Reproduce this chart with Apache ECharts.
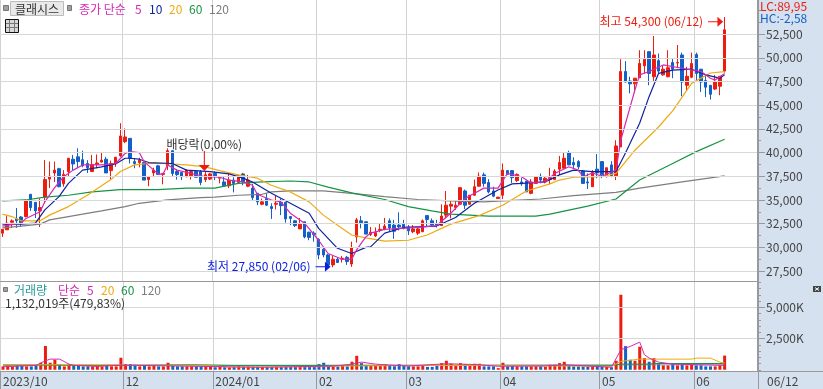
<!DOCTYPE html>
<html>
<head>
<meta charset="utf-8">
<style>
html, body { margin: 0; padding: 0; background: #d6e1ef; }
#main { width: 823px; height: 389px; }
</style>
<script src="https://cdn.jsdelivr.net/npm/echarts@6/dist/echarts.min.js"></script>
</head>
<body>
<div id="main"></div>
<script>
// open, close, low, high
const ohlc = [
  [31500,31900,31100,31900],[31850,32550,31850,33300],[32650,32800,32050,32950],[33000,32800,32050,34150],[33200,32600,32150,33300],
  [33250,34900,33150,35050],[35600,34200,33850,35600],[34750,33850,33100,34750],[33850,34200,32150,35150],[35300,37150,34650,39200],
  [37200,37500,36250,39050],[37850,38150,36900,39050],[38300,36400,36350,38400],[36700,37700,36400,38150],[38000,39400,37500,39400],
  [39300,38800,38150,39750],[39550,39050,38350,40450],[39250,38600,38450,40200],[38850,38400,37850,39200],[38000,38750,37950,39750],
  [38750,38900,38350,39800],[39000,39200,38950,40000],[39300,37850,37850,39550],[38100,38850,37200,39150],[38850,39500,38500,39550],
  [39650,41750,39550,43100],[41150,41650,41000,42550],[41500,39400,38850,41500],[39050,38850,38350,39400],[38950,39200,38450,39450],
  [38950,37100,37100,38950],[37150,37450,36450,37500],[37850,38150,37400,38400],[38600,37700,37650,38700],[37700,37800,36650,37850],
  [38600,40200,38150,40450],[40200,37800,37450,40200],[38000,37700,37150,38250],[37900,37450,37100,37900],[37450,38150,37400,38250],
  [37550,38000,37150,38000],[38000,37400,37400,38150],[38000,36850,36550,38150],[37150,37650,36900,38000],[37200,37750,37100,37850],
  [37800,37550,37100,38000],[37300,37400,36750,37400],[36900,36500,36400,37450],[36500,37100,36250,37800],[37100,36750,35800,37400],
  [36850,37550,36750,37650],[37750,36900,36550,37850],[36450,37100,36350,37650],[36250,35250,35000,36700],[35700,34800,34450,35700],
  [34550,34800,34450,35150],[35150,34450,34350,35700],[34300,34100,33000,34650],[34550,34650,34000,35500],[34750,34400,33400,35150],
  [34750,33000,32600,34750],[33250,33050,32350,33250],[32800,32300,32150,32850],[31950,32450,31950,33100],[32700,31100,30950,32700],
  [31600,31050,30750,31650],[31500,31350,30600,31700],[30850,29200,28750,30950],[29800,29200,28950,30000],[29200,28150,27850,29300],
  [28150,28750,27900,29100],[28750,28400,28350,28900],[28750,28850,28400,29100],[28950,28500,28150,29100],[28250,30000,27950,30600],
  [31100,32900,30500,33100],[32800,32600,32000,33300],[32700,31400,31400,32700],[31350,31600,31200,32150],[31200,31550,31100,32100],
  [31800,31900,31600,32450],[31900,32250,31800,33100],[32800,32050,31650,33050],[32350,31700,30900,32900],[32350,32150,31800,33700],
  [32450,32000,31900,32900],[32150,31750,31300,32350],[31650,31950,31500,32350],[31500,31950,31300,32150],[31650,32800,31600,32950],
  [33350,32950,32150,33400],[32800,32350,32150,33050],[32500,32350,32100,32900],[32300,33300,32250,34550],[33400,34450,33050,35950],
  [34350,34550,33050,34900],[34200,34450,33950,35000],[34550,36300,34500,36350],[35950,34450,34050,36100],[34550,35500,34550,35500],
  [35500,36400,35450,37150],[36450,37500,36400,37900],[37650,36750,36400,37900],[36850,35850,35700,37200],[35950,35400,35300,36400],
  [35150,35300,35150,35300],[35500,38150,35100,38850],[38100,37700,37700,38100],[38100,37350,36800,38100],[37050,37700,36900,37800],
  [36900,36700,36500,37350],[37000,35850,35850,37000],[35700,36900,35600,37200],[36750,37450,36750,37500],[37500,37100,36750,37800],
  [36900,37300,36750,37450],[37150,37350,36650,38400],[37150,38050,37100,38250],[38250,38950,37650,39650],[38350,39400,38350,40000],
  [40000,38700,38700,40200],[38950,38700,38350,39500],[39050,38500,38250,39200],[38050,36750,36750,38150],[36900,36800,36150,37800],
  [36400,37900,36400,38150],[38250,37850,37300,39850],[39050,37650,37300,39050],[37450,38400,37400,38400],[38700,37550,37400,39100],
  [37550,40700,37100,41300],[40600,48550,40600,49850],[48550,47450,47400,49650],[47550,47250,46250,48000],[47250,47850,46300,47850],
  [47900,49400,47850,50800],[49150,49850,48350,50800],[50650,48350,47100,50700],[48000,50300,47450,52300],[49700,48600,48400,50450],
  [48200,48800,48100,49150],[48000,48950,47950,50800],[49500,48800,47850,49950],[49450,49500,48900,51350],[50300,47450,45950,50550],
  [47100,48050,46600,49050],[47950,49400,47850,50550],[50350,48350,47450,50550],[48800,47450,46400,48800],[47600,46900,45850,48200],
  [47100,46150,45600,47100],[46700,47450,46600,48200],[47000,48050,46050,48050],[48600,52950,48450,54300]
];

// thousands of shares
const volumes = [
  270,350,270,350,350,270,270,350,560,1900,560,800,450,270,450,300,300,270,270,270,
  300,270,350,270,270,960,450,450,400,270,350,270,300,270,270,560,350,270,270,270,
  270,270,270,270,270,200,230,200,200,230,330,250,270,250,250,240,230,220,240,220,
  250,240,230,270,300,270,250,450,560,300,270,250,300,270,640,1120,530,350,320,300,
  300,450,300,280,450,300,280,270,270,300,230,230,300,530,720,480,350,530,450,350,
  480,480,270,270,270,130,560,270,350,270,270,270,270,270,270,230,400,400,530,640,
  300,270,270,250,230,270,250,270,230,200,720,6000,1890,800,720,1840,930,640,930,450,
  350,350,450,350,500,350,500,350,350,270,270,270,350,1132
];

// moving averages as [candle index, value]
const ma5 = [[0,32250],[4,32550],[5,33050],[8,33750],[9,34800],[11,36250],[13,37450],[15,38150],[17,38700],[21,38700],[24,38850],[26,39900],[27,40100],[29,40000],[30,39050],[33,37750],[34,37700],[35,38700],[37,38150],[43,37450],[46,37400],[48,37100],[51,36900],[53,36550],[54,35600],[57,35000],[59,34800],[61,33600],[64,32550],[67,30750],[69,29350],[72,28750],[74,28750],[75,29700],[77,31100],[78,31500],[81,31900],[88,32100],[92,32300],[95,33600],[98,35150],[102,36250],[105,36250],[107,37800],[110,37450],[112,36800],[115,36900],[117,37800],[120,38500],[122,38150],[123,37450],[125,37850],[127,37500],[130,38150],[131,41300],[134,46600],[135,48200],[137,48550],[140,49250],[144,48900],[148,48550],[150,47850],[151,47650],[153,48350]];
const ma10 = [[0,32450],[4,32450],[7,32550],[9,33950],[12,35350],[14,36750],[17,38150],[21,38500],[24,38800],[26,39400],[27,39400],[29,39300],[31,38950],[36,38850],[39,38150],[44,38000],[48,37750],[51,37300],[53,36900],[57,35700],[61,34650],[65,33600],[67,32000],[71,29900],[74,29350],[77,30000],[78,30050],[81,31500],[85,32100],[92,32250],[96,33150],[100,34650],[105,36050],[108,36700],[110,36750],[115,36900],[118,37650],[121,38150],[125,38000],[130,38000],[132,39950],[135,43100],[137,45900],[139,48350],[142,48700],[146,48800],[149,48200],[152,47850],[153,48200]];
const ma20 = [[0,33500],[2,33250],[4,32800],[8,32800],[10,33400],[14,34300],[18,35500],[23,37150],[25,38000],[28,38700],[31,38850],[34,38850],[39,38700],[43,38500],[46,38100],[50,37650],[54,37300],[57,36550],[61,35850],[65,34800],[68,33400],[72,32000],[74,31300],[77,31000],[81,30650],[86,30750],[90,31300],[95,32450],[101,33350],[106,34450],[111,35950],[116,36700],[118,37100],[121,37400],[127,37450],[130,37800],[134,40250],[139,42700],[142,44400],[146,47300],[150,48400],[153,48550]];
const ma60 = [[0,34900],[5,35000],[9,35300],[14,35500],[19,35850],[25,36100],[33,36100],[39,36250],[45,36250],[50,36750],[55,36900],[61,37000],[65,36900],[69,36350],[74,35750],[81,35050],[86,34300],[91,33850],[95,33500],[103,33300],[113,33300],[116,33500],[124,34350],[130,35100],[135,37100],[142,38850],[147,40100],[153,41400]];
const ma120 = [[0,32050],[4,32250],[8,32450],[10,32900],[14,33250],[17,33500],[21,33850],[26,34300],[29,34650],[35,35000],[42,35250],[45,35300],[50,35500],[55,35600],[57,35850],[61,35950],[68,35950],[74,35700],[81,35350],[88,35050],[95,34900],[102,34800],[106,34900],[114,35100],[121,35450],[130,35800],[135,36250],[144,36900],[153,37550]];

const volMa5 = [[0,240],[7,350],[9,720],[10,850],[12,850],[14,450],[15,350],[20,270],[24,350],[28,350],[54,200],[70,290],[74,450],[76,610],[79,450],[83,350],[86,300],[94,480],[100,420],[105,280],[115,300],[119,400],[129,200],[131,1600],[133,1870],[135,2210],[136,1200],[137,930],[139,610],[142,450],[153,350]];
const volMa20 = [[0,400],[24,400],[26,350],[40,350],[45,300],[48,220],[66,240],[72,300],[84,330],[100,350],[120,300],[129,270],[131,670],[135,850],[146,850],[147,930],[150,930],[152,610],[153,530]];
const volMa60 = [[0,400],[20,350],[40,400],[49,350],[86,350],[129,350],[131,450],[137,450],[138,500],[153,500]];
const volMa120 = [[0,350],[60,350],[100,370],[153,400]];

// 161 slots, last ones stay empty as padding on the right
const monthLabels = { 0: '2023/10', 26: '12', 45: '2024/01', 67: '02', 86: '03', 106: '04', 127: '05', 147: '06' };
const categories = [];
for (let i = 0; i < 161; i++) categories.push(monthLabels[i] || '');

const priceTicks = [27500,30000,32500,35000,37500,40000,42500,45000,47500,50000,52500];
const priceMinorTicks = [28750,31250,33750,36250,38750,41250,43750,46250,48750,51250,53750,55000];
const volumeTicks = [2500,5000];
const volumeMinorTicks = [0,500,1000,1500,2000,3000,3500,4000,4500,5500,6000,6500,7000];

const priceHigh = { index: 153, arrowAt: 53800, text: '최고 54,300 (06/12)' };
const priceLow = { index: 69, arrowAt: 27950, text: '최저 27,850 (02/06)' };
const dividend = { index: 43, arrowAt: 38050, text: '배당락(0,00%)' };

const UP = '#ec1c0e';
const DOWN = '#1260c8';
const PINK = '#d629b4';
const NAVY = '#10239e';
const ORANGE = '#eeaa10';
const GREEN = '#159443';
const GRAY = '#7d7d7d';
const FONT = '"Noto Sans CJK KR", sans-serif';
const PANEL = 758;

const isMonth = (i) => monthLabels[i] !== undefined;

function maLine(name, data, color, xIdx, yIdx, width) {
    return {
        name: name,
        type: 'line',
        data: data,
        xAxisIndex: xIdx,
        yAxisIndex: yIdx,
        showSymbol: false,
        silent: true,
        lineStyle: { color: color, width: width || 1.2 }
    };
}

function txt(x, y, text, fill) {
    return {
        type: 'text', z: 10, silent: true,
        style: { x: x, y: y, text: text, fill: fill, font: '12px ' + FONT, textVerticalAlign: 'middle' }
    };
}

function box(x, y, w, h, fill, stroke) {
    return {
        type: 'rect', z: 10, silent: true,
        shape: { x: x, y: y, width: w, height: h },
        style: { fill: fill, stroke: stroke || null, lineWidth: 1 }
    };
}

function seg(x1, y1, x2, y2, color) {
    return {
        type: 'line', z: 10, silent: true,
        shape: { x1: x1, y1: y1, x2: x2, y2: y2 },
        style: { stroke: color, lineWidth: 1 }
    };
}

const xBase = {
    type: 'category',
    data: categories,
    boundaryGap: true,
    axisPointer: { show: false },
    splitLine: { show: true, interval: (i) => isMonth(i), lineStyle: { color: '#d2d2d2', width: 1 } }
};

function yPair(gridIndex, min, max, ticks, minorTicks, fmt) {
    const common = {
        type: 'value', gridIndex: gridIndex, position: 'right', offset: -2, z: 5,
        min: min, max: max, scale: true
    };
    return [
        Object.assign({}, common, {
            axisLine: { show: true, onZero: false, lineStyle: { color: '#999', width: 2 } },
            axisTick: { show: true, length: 7, customValues: ticks, lineStyle: { color: '#999' } },
            axisLabel: { customValues: ticks, margin: 8, padding: [0, 0, 2, 0], color: '#444', fontSize: 12, fontFamily: FONT, formatter: fmt },
            splitLine: { show: true, lineStyle: { color: '#d8d8d8', width: 1 } }
        }),
        Object.assign({}, common, {
            axisLine: { show: false },
            axisTick: { show: true, length: 3, customValues: minorTicks, lineStyle: { color: '#999' } },
            axisLabel: { show: false },
            splitLine: { show: false }
        })
    ];
}

const panelGraphic = [
    { type: 'rect', z: 1, silent: true, shape: { x: PANEL, y: 0, width: 65, height: 389 }, style: { fill: '#d6e1ef' } },
    seg(PANEL + 0.5, 371, PANEL + 0.5, 389, '#999'),
    seg(PANEL, 371.5, 823, 371.5, '#999'),
    txt(767, 381, '06/12', '#444'),
    txt(760, 6, 'LC:89,95', '#ec1c0e'),
    txt(760, 18, 'HC:-2,58', '#1260c8'),

    box(3.5, 5.5, 5, 5, '#a0a0a0', '#777'),
    box(10.5, 1.5, 53, 14, '#e9e9e9', '#bbb'),
    txt(15, 9, '클래시스', '#333'),
    box(67.5, 5.5, 4, 5, '#a0a0a0', '#777'),
    txt(79, 9, '종가 단순', PINK),
    txt(135, 9, '5', PINK),
    txt(149, 9, '10', NAVY),
    txt(169, 9, '20', ORANGE),
    txt(189, 9, '60', GREEN),
    txt(209, 9, '120', GRAY),

    box(5.5, 19.5, 13, 13, '#d8d8d8', '#111'),
    seg(6, 23.5, 18, 23.5, '#777'),
    seg(6, 27.5, 18, 27.5, '#777'),
    seg(9.5, 20, 9.5, 32, '#777'),
    seg(14.5, 20, 14.5, 32, '#777'),

    box(3.5, 287.5, 4, 4, '#a0a0a0', '#777'),
    txt(14, 290, '거래량', '#279a9a'),
    txt(58, 290, '단순', PINK),
    txt(87, 290, '5', PINK),
    txt(101, 290, '20', ORANGE),
    txt(121, 290, '60', GREEN),
    txt(141, 290, '120', GRAY),
    txt(5, 303, '1,132,019주(479,83%)', '#333'),

    box(813, 286, 8, 6, '#444'),
    seg(815, 287.5, 819, 290.5, '#fff'),
    seg(815, 290.5, 819, 287.5, '#fff')
];

const myChart = echarts.init(document.getElementById('main'), null, { renderer: 'canvas' });

const option = {
    animation: false,
    backgroundColor: '#d6e1ef',
    grid: [
        { left: 0, top: 0, width: 760, height: 281, show: true, backgroundColor: '#fff', borderWidth: 0 },
        { left: 0, top: 281, width: 760, height: 90, show: true, backgroundColor: '#fff', borderWidth: 0 }
    ],
    xAxis: [
        Object.assign({}, xBase, {
            gridIndex: 0,
            axisLine: { show: true, onZero: false, lineStyle: { color: '#999', width: 1 } },
            axisTick: { show: false },
            axisLabel: { show: false }
        }),
        Object.assign({}, xBase, {
            gridIndex: 1,
            axisLine: { show: true, onZero: false, lineStyle: { color: '#999', width: 1 } },
            axisTick: { show: true, length: 18, interval: (i) => isMonth(i), lineStyle: { color: '#999' } },
            axisLabel: {
                show: true, interval: (i) => isMonth(i), align: 'left', margin: 4,
                color: '#444', fontSize: 12, fontFamily: FONT, hideOverlap: false
            }
        })
    ],
    yAxis: [].concat(
        yPair(0, 26450, 56100, priceTicks, priceMinorTicks, (v) => v.toLocaleString('en-US')),
        yPair(1, -100, 7100, volumeTicks, volumeMinorTicks, (v) => v.toLocaleString('en-US') + 'K')
    ),
    series: [
        {
            name: 'price',
            type: 'candlestick',
            data: ohlc,
            barWidth: 3,
            xAxisIndex: 0,
            yAxisIndex: 0,
            silent: true,
            itemStyle: { color: UP, color0: DOWN, borderColor: UP, borderColor0: DOWN, borderColorDoji: UP, borderWidth: 1 },
            markPoint: {
                silent: true,
                animation: false,
                data: [
                    {
                        coord: [priceHigh.index, priceHigh.arrowAt],
                        symbol: 'path://M0 4.5H10V5.5H0Z M10 0L16 5L10 10Z',
                        symbolSize: [15, 10],
                        symbolOffset: [-9, 0],
                        itemStyle: { color: UP },
                        label: { show: true, position: 'left', distance: 5, formatter: priceHigh.text, color: UP, fontSize: 12, fontFamily: FONT }
                    },
                    {
                        coord: [priceLow.index, priceLow.arrowAt],
                        symbol: 'path://M0 4.5H10V5.5H0Z M10 0L16 5L10 10Z',
                        symbolSize: [15, 10],
                        symbolOffset: [-5, 0],
                        itemStyle: { color: '#0a1ee0' },
                        label: { show: true, position: 'left', distance: 5, formatter: priceLow.text, color: '#0a1ee0', fontSize: 12, fontFamily: FONT }
                    },
                    {
                        coord: [dividend.index, dividend.arrowAt],
                        symbol: 'path://M4.5 0H5.5V14H10L5 20L0 14H4.5Z',
                        symbolSize: [11, 20],
                        symbolOffset: [-1, -10],
                        itemStyle: { color: UP },
                        label: { show: true, position: 'top', distance: 1, formatter: dividend.text, color: '#333', fontSize: 12, fontFamily: FONT }
                    }
                ]
            }
        },
        maLine('MA120', ma120, GRAY, 0, 0),
        maLine('MA60', ma60, GREEN, 0, 0),
        maLine('MA20', ma20, ORANGE, 0, 0),
        maLine('MA10', ma10, NAVY, 0, 0),
        maLine('MA5', ma5, PINK, 0, 0),
        {
            name: 'volume',
            type: 'bar',
            barWidth: 3,
            xAxisIndex: 1,
            yAxisIndex: 2,
            silent: true,
            data: volumes.map((v, i) => ({
                value: v,
                itemStyle: { color: ohlc[i][1] >= ohlc[i][0] ? UP : DOWN }
            }))
        },
        maLine('volMA120', volMa120, GRAY, 1, 2, 0.8),
        maLine('volMA60', volMa60, GREEN, 1, 2, 1),
        maLine('volMA20', volMa20, ORANGE, 1, 2, 1),
        maLine('volMA5', volMa5, PINK, 1, 2, 1)
    ],
    graphic: panelGraphic
};

myChart.setOption(option);
</script>
</body>
</html>
